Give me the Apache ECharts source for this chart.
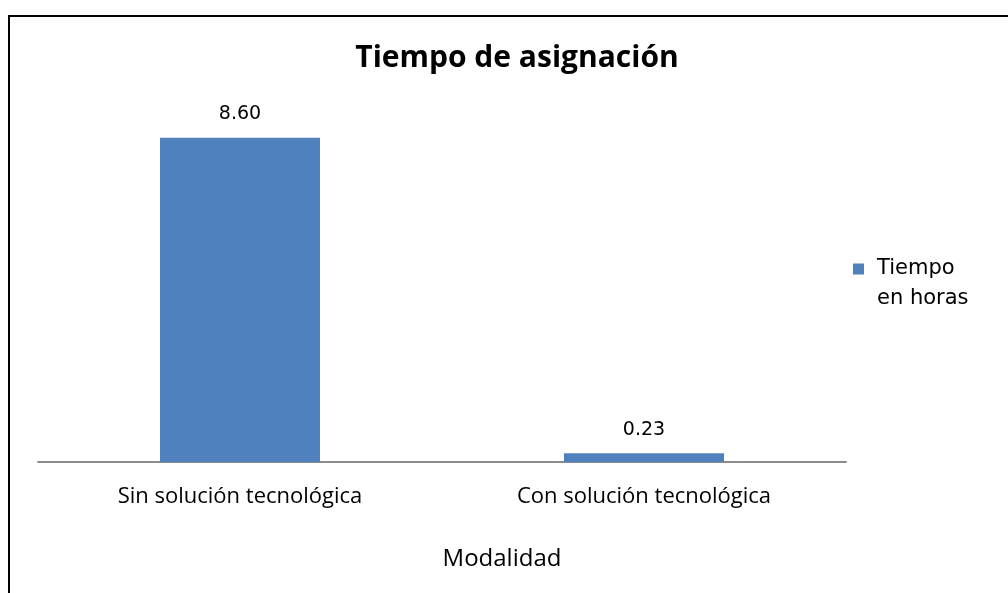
<!DOCTYPE html>
<html>
<head>
<meta charset="utf-8">
<script src="https://cdn.jsdelivr.net/npm/echarts@6/dist/echarts.min.js"></script>
<style>
  html, body { margin: 0; padding: 0; background: #fff; }
  #chart { width: 1008px; height: 593px; }
</style>
</head>
<body>
<div id="chart"></div>
<script>
const categories = ["Sin solución tecnológica", "Con solución tecnológica"];
const horas = [8.6, 0.23];
const seriesName = "Tiempo en horas";
const legendLines = ["Tiempo", "en horas"];

const chart = echarts.init(document.getElementById("chart"));

chart.setOption({
  animation: false,
  title: {
    text: "Tiempo de asignación",
    left: 512,
    textAlign: "center",
    top: 38,
    textStyle: {
      fontFamily: "Open Sans",
      fontWeight: "bold",
      fontSize: 30,
      color: "#000",
    },
  },
  legend: {
    left: 848,
    top: 219,
    orient: "vertical",
    icon: "rect",
    itemWidth: 11,
    itemHeight: 11,
    itemGap: 8,
    data: [seriesName],
    // leading blank line keeps the square beside the first line
    formatter: () => "\n" + legendLines.join("\n"),
    textStyle: {
      fontFamily: "DejaVu Sans",
      fontSize: 21,
      lineHeight: 30,
      padding: [0, 0, 0, 8],
      color: "#000",
    },
  },
  grid: {
    left: 38,
    right: 162,
    top: 85,
    bottom: 131,
    containLabel: false,
  },
  xAxis: {
    type: "category",
    data: categories,
    axisLine: { lineStyle: { color: "#8c8c8c", width: 2 } },
    axisTick: { show: false },
    axisLabel: {
      margin: 24,
      fontFamily: "Open Sans",
      fontSize: 22,
      color: "#000",
    },
    name: "Modalidad",
    nameLocation: "middle",
    nameGap: 85,
    nameTextStyle: {
      fontFamily: "Open Sans",
      fontSize: 24,
      padding: [0, 0, 0, 120],
      color: "#000",
    },
  },
  yAxis: {
    type: "value",
    min: 0,
    max: 10,
    show: false,
  },
  series: [
    {
      name: seriesName,
      type: "bar",
      data: horas,
      barWidth: 160,
      itemStyle: { color: "#4f81bd" },
      label: {
        show: true,
        position: "top",
        distance: 14,
        formatter: (p) => p.value.toFixed(2),
        fontFamily: "DejaVu Sans",
        fontSize: 19,
        color: "#000",
      },
    },
  ],
  graphic: [
    {
      type: "rect",
      shape: { x: 9, y: 16, width: 1020, height: 600 },
      style: { fill: null, stroke: "#000", lineWidth: 2 },
      silent: true,
    },
  ],
});
</script>
</body>
</html>
